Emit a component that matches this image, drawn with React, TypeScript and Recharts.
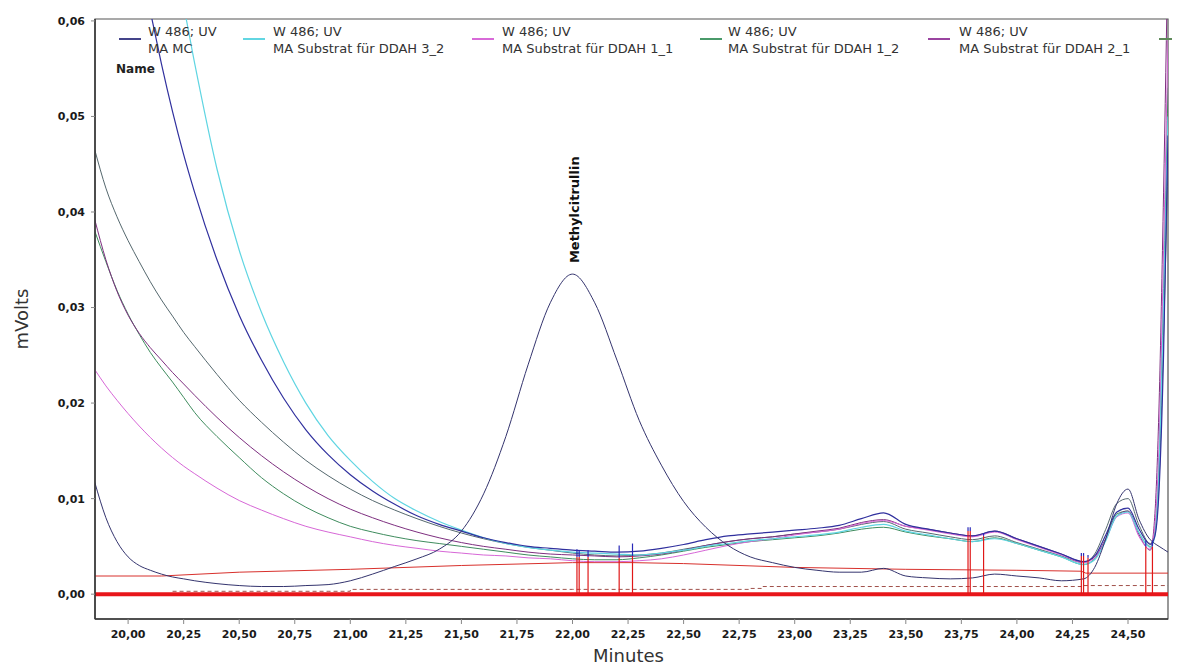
import React from 'react';
import { LineChart, Line, XAxis, YAxis, ReferenceLine, ReferenceArea, ReferenceDot, Legend } from 'recharts';

// ---------- data ----------
const minutes = [
  19.85, 19.9, 19.95, 20.0, 20.05, 20.1, 20.15, 20.2, 20.25, 20.3,
  20.4, 20.5, 20.6, 20.7, 20.8, 20.9, 21.0, 21.1, 21.2, 21.3,
  21.4, 21.5, 21.6, 21.7, 21.8, 21.9, 22.0, 22.1, 22.2, 22.3,
  22.4, 22.5, 22.6, 22.7, 22.8, 22.9, 23.0, 23.1, 23.2, 23.3,
  23.4, 23.5, 23.6, 23.7, 23.8, 23.9, 24.0, 24.1, 24.2, 24.3,
  24.35, 24.4, 24.45, 24.5, 24.55, 24.6, 24.62, 24.64, 24.66, 24.68,
];

const maMC = [
  0.0117, 0.0080, 0.0055, 0.0039, 0.0030, 0.0025, 0.0021, 0.0018, 0.0016, 0.0014,
  0.0011, 0.0009, 0.0008, 0.0008, 0.0009, 0.0010, 0.0014, 0.0021, 0.0029, 0.0037,
  0.0047, 0.0066, 0.0105, 0.0165, 0.0240, 0.0305, 0.0335, 0.0305, 0.0245, 0.0182,
  0.0135, 0.0097, 0.0070, 0.0051, 0.0039, 0.0033, 0.0028, 0.0025, 0.0023, 0.0023,
  0.0027, 0.0019, 0.0017, 0.0016, 0.0017, 0.0021, 0.0019, 0.0017, 0.0014, 0.0016,
  0.0028, 0.0058, 0.0095, 0.0110, 0.0078, 0.0057, 0.0053, 0.0050, 0.0047, 0.0044,
];

const ddah32 = [
  0.140, 0.125, 0.112, 0.100, 0.089, 0.080, 0.072, 0.066, 0.0615, 0.0555,
  0.0445, 0.0360, 0.0295, 0.0243, 0.0200, 0.0166, 0.0140, 0.0118, 0.0100, 0.0087,
  0.0076, 0.0067, 0.0059, 0.0053, 0.0049, 0.0046, 0.0044, 0.0043, 0.0042, 0.0041,
  0.0043, 0.0046, 0.0050, 0.0053, 0.0056, 0.0058, 0.0060, 0.0062, 0.0065, 0.0070,
  0.0073, 0.0066, 0.0062, 0.0058, 0.0055, 0.0058, 0.0053, 0.0046, 0.0039, 0.0031,
  0.0036, 0.0056, 0.0082, 0.0086, 0.0064, 0.0049, 0.0060, 0.0130, 0.0300, 0.0500,
];

const ddah11 = [
  0.0235, 0.0218, 0.0203, 0.0189, 0.0176, 0.0164, 0.0153, 0.0143, 0.0134, 0.0126,
  0.0111, 0.0098, 0.0088, 0.0079, 0.0071, 0.0065, 0.0060, 0.0055, 0.0051, 0.0048,
  0.0045, 0.0043, 0.0041, 0.0040, 0.0038, 0.0037, 0.0035, 0.0034, 0.0034, 0.0035,
  0.0037, 0.0041, 0.0046, 0.0051, 0.0055, 0.0058, 0.0062, 0.0065, 0.0068, 0.0074,
  0.0077, 0.0071, 0.0067, 0.0063, 0.0060, 0.0065, 0.0057, 0.0049, 0.0041, 0.0033,
  0.0038, 0.0057, 0.0081, 0.0085, 0.0060, 0.0047, 0.0070, 0.0160, 0.0360, 0.0580,
];

const ddah12 = [
  0.0380, 0.0348, 0.0318, 0.0293, 0.0272, 0.0253, 0.0237, 0.0222, 0.0206, 0.0190,
  0.0165, 0.0143, 0.0122, 0.0105, 0.0091, 0.0080, 0.0071, 0.0065, 0.0060, 0.0056,
  0.0053, 0.0050, 0.0047, 0.0044, 0.0041, 0.0039, 0.0037, 0.0036, 0.0036, 0.0038,
  0.0041, 0.0045, 0.0049, 0.0052, 0.0055, 0.0057, 0.0059, 0.0061, 0.0064, 0.0068,
  0.0070, 0.0065, 0.0061, 0.0058, 0.0055, 0.0059, 0.0053, 0.0046, 0.0039, 0.0031,
  0.0037, 0.0058, 0.0084, 0.0087, 0.0064, 0.0050, 0.0062, 0.0140, 0.0320, 0.0530,
];

const ddah21 = [
  0.0392, 0.0350, 0.0317, 0.0292, 0.0273, 0.0258, 0.0245, 0.0232, 0.0220, 0.0208,
  0.0185, 0.0164, 0.0145, 0.0128, 0.0113, 0.0100, 0.0089, 0.0080, 0.0072, 0.0065,
  0.0059, 0.0054, 0.0050, 0.0047, 0.0044, 0.0042, 0.0041, 0.0040, 0.0039, 0.0040,
  0.0042, 0.0046, 0.0051, 0.0055, 0.0058, 0.0060, 0.0063, 0.0066, 0.0069, 0.0075,
  0.0078, 0.0071, 0.0068, 0.0064, 0.0061, 0.0066, 0.0058, 0.0050, 0.0042, 0.0034,
  0.0039, 0.0058, 0.0082, 0.0087, 0.0062, 0.0046, 0.0080, 0.0200, 0.0420, 0.0680,
];

const blueTrace = [
  0.110, 0.097, 0.085, 0.075, 0.067, 0.0610, 0.0555, 0.0505, 0.0460, 0.0420,
  0.0350, 0.0292, 0.0245, 0.0205, 0.0172, 0.0146, 0.0125, 0.0108, 0.0094, 0.0082,
  0.0073, 0.0066, 0.0059, 0.0054, 0.0050, 0.0048, 0.0046, 0.0045, 0.0044, 0.0045,
  0.0048, 0.0052, 0.0057, 0.0061, 0.0063, 0.0065, 0.0067, 0.0069, 0.0072, 0.0079,
  0.0085, 0.0073, 0.0068, 0.0064, 0.0061, 0.0066, 0.0058, 0.0050, 0.0042, 0.0034,
  0.0040, 0.0062, 0.0086, 0.0090, 0.0068, 0.0052, 0.0060, 0.0110, 0.0250, 0.0480,
];

const slateTrace = [
  0.0465, 0.0425, 0.0395, 0.0370, 0.0348, 0.0327, 0.0308, 0.0291, 0.0274, 0.0259,
  0.0230, 0.0203, 0.0180, 0.0159, 0.0140, 0.0124, 0.0110, 0.0098, 0.0088, 0.0079,
  0.0071, 0.0064, 0.0058, 0.0053, 0.0049, 0.0046, 0.0043, 0.0041, 0.0040, 0.0041,
  0.0043, 0.0047, 0.0051, 0.0055, 0.0058, 0.0060, 0.0063, 0.0065, 0.0068, 0.0073,
  0.0076, 0.0068, 0.0064, 0.0060, 0.0057, 0.0061, 0.0054, 0.0047, 0.0040, 0.0033,
  0.0042, 0.0068, 0.0095, 0.0100, 0.0072, 0.0053, 0.0062, 0.0120, 0.0270, 0.0450,
];

const baselineMinutes = [19.85, 20.15, 20.5, 21.0, 21.5, 22.0, 22.27, 22.5, 23.0, 23.5, 24.0, 24.29, 24.31, 24.68];
const baselineValues = [0.0019, 0.0019, 0.0023, 0.0026, 0.0030, 0.0033, 0.0033, 0.0032, 0.0028, 0.0026, 0.0025, 0.0024, 0.0022, 0.0022];

const dashedMinutes = [20.2, 20.9, 21.0, 22.0, 22.8, 22.85, 23.8, 24.3, 24.68];
const dashedValues = [0.0003, 0.0003, 0.0005, 0.0005, 0.0006, 0.0008, 0.0008, 0.0009, 0.0009];

const markerMinutes = [22.02, 22.03, 22.07, 22.21, 22.27, 23.78, 23.79, 23.85, 24.29, 24.3, 24.32, 24.58, 24.61];
const markerRedTop = [0.0039, 0.0039, 0.0039, 0.0038, 0.0040, 0.0066, 0.0066, 0.0061, 0.0040, 0.0040, 0.0038, 0.0050, 0.0050];
const markerBlueTop = [0.0047, 0.0046, 0.0046, 0.0051, 0.0053, 0.0070, 0.0070, 0.0064, 0.0043, 0.0043, 0.0041, 0.0056, 0.0056];

const xTicks = [20, 20.25, 20.5, 20.75, 21, 21.25, 21.5, 21.75, 22, 22.25, 22.5, 22.75, 23, 23.25, 23.5, 23.75, 24, 24.25, 24.5];
const yTicks = [0, 0.01, 0.02, 0.03, 0.04, 0.05, 0.06];
const xMinorTicks = Array.from({ length: 97 }, (_, i) => +(19.85 + i * 0.05).toFixed(2));
const yMinorTicks = Array.from({ length: 26 }, (_, i) => +(-0.0025 + i * 0.0025).toFixed(4));

const legendNames = ['MA MC', 'MA Substrat für DDAH 3_2', 'MA Substrat für DDAH 1_1', 'MA Substrat für DDAH 1_2', 'MA Substrat für DDAH 2_1'];
const legendHeader = 'W 486; UV';
const peakName = 'Methylcitrullin';

// ---------- style ----------
const FONT = '"DejaVu Sans", Verdana, sans-serif';
const X_DOMAIN = [19.851, 24.68];
const Y_DOMAIN = [-0.0026, 0.0602];

const traceStyles = [
  { key: 'slate', color: '#55686E', width: 1 },
  { key: 'ddah12', color: '#3F8C5E', width: 1 },
  { key: 'ddah21', color: '#7E2F80', width: 1 },
  { key: 'ddah11', color: '#D767D7', width: 1 },
  { key: 'ddah32', color: '#5FD5E2', width: 1.2 },
  { key: 'blue', color: '#30309E', width: 1.2 },
  { key: 'maMC', color: '#34346E', width: 1 },
];
const legendColors = ['#44448A', '#62D6E2', '#D86AD8', '#4A9A6A', '#9A44A0'];
const legendTextX = [140, 265, 494, 720, 951];
const legendSampleX = [111, 235, 464, 692, 920];

const table = minutes.map((t, i) => ({
  t,
  maMC: maMC[i],
  ddah32: ddah32[i],
  ddah11: ddah11[i],
  ddah12: ddah12[i],
  ddah21: ddah21[i],
  blue: blueTrace[i],
  slate: slateTrace[i],
}));
const baselineData = baselineMinutes.map((t, i) => ({ t, v: baselineValues[i] }));
const dashedData = dashedMinutes.map((t, i) => ({ t, v: dashedValues[i] }));

const fmt = (v: number) => v.toFixed(2).replace('.', ',');

const MinorXTick = (props: any) => (
  <line x1={props.x} x2={props.x} y1={props.y} y2={props.y + 3} stroke="#999" strokeWidth={1} />
);
const MinorYTick = (props: any) => (
  <line x1={props.x - 3} x2={props.x} y1={props.y} y2={props.y} stroke="#999" strokeWidth={1} />
);

const LegendBox = () => (
  <div style={{ position: 'relative', width: 1172, height: 80, fontFamily: FONT, color: '#333' }}>
    {legendNames.map((name, i) => (
      <React.Fragment key={name}>
        <div style={{ position: 'absolute', left: legendSampleX[i], top: 30, width: 22, height: 2, background: legendColors[i] }} />
        <div style={{ position: 'absolute', left: legendTextX[i], top: 15, fontSize: 13, lineHeight: '17px', whiteSpace: 'nowrap' }}>
          <div>{legendHeader}</div>
          <div>{name}</div>
        </div>
      </React.Fragment>
    ))}
    <div style={{ position: 'absolute', left: 1151, top: 30, width: 21, height: 2, background: '#5E8A5A' }} />
    <div style={{ position: 'absolute', left: 108, top: 53, fontSize: 12, fontWeight: 'bold', lineHeight: '16px', color: '#222' }}>Name</div>
  </div>
);

const renderPeakLabel = (props: any) => {
  const vb = props.viewBox || {};
  const cx = (vb.x ?? 0) + (vb.width ?? 0) / 2 + 2;
  const cy = (vb.y ?? 0) - 11;
  return (
    <text x={cx} y={cy} transform={`rotate(-90 ${cx} ${cy})`} textAnchor="start" dominantBaseline="central"
      fontFamily={FONT} fontSize={13} fontWeight="bold" fill="#111">{peakName}</text>
  );
};

const renderYLabel = (props: any) => {
  const vb = props.viewBox || {};
  const cx = 13;
  const cy = (vb.y ?? 0) + (vb.height ?? 0) / 2;
  return (
    <text x={cx} y={cy} transform={`rotate(-90 ${cx} ${cy})`} textAnchor="middle" dominantBaseline="central"
      fontFamily={FONT} fontSize={18} fill="#333">mVolts</text>
  );
};

const renderXLabel = (props: any) => {
  const vb = props.viewBox || {};
  const cx = (vb.x ?? 0) + (vb.width ?? 0) / 2 - 3;
  return (
    <text x={cx} y={647} textAnchor="middle" dominantBaseline="central" fontFamily={FONT} fontSize={18} fill="#333">Minutes</text>
  );
};

export default function App() {
  return (
    <div style={{ width: 1172, height: 656 }}>
      <LineChart width={1172} height={656} data={table} margin={{ top: 11, right: 12, left: 0, bottom: 0 }}>
        <XAxis xAxisId="minor" dataKey="t" type="number" domain={X_DOMAIN} allowDataOverflow ticks={xMinorTicks}
          height={0} tick={<MinorXTick />} tickSize={0} tickMargin={0} tickLine={false} axisLine={false} interval={0} />
        <XAxis xAxisId="main" dataKey="t" type="number" domain={X_DOMAIN} allowDataOverflow ticks={xTicks}
          height={45} tickFormatter={fmt} tickSize={5} tickMargin={6} interval={0}
          axisLine={{ stroke: '#333', strokeWidth: 1.5 }} tickLine={{ stroke: '#888' }}
          tick={{ fontFamily: FONT, fontSize: 11, fontWeight: 'bold', fill: '#1a1a1a' }}
          label={renderXLabel} />
        <YAxis yAxisId="minor" type="number" domain={Y_DOMAIN} allowDataOverflow ticks={yMinorTicks}
          width={0} tick={<MinorYTick />} tickSize={0} tickMargin={0} tickLine={false} axisLine={false} interval={0} />
        <YAxis yAxisId="main" type="number" domain={Y_DOMAIN} allowDataOverflow ticks={yTicks}
          width={87} tickFormatter={fmt} tickSize={4} tickMargin={6} interval={0}
          axisLine={{ stroke: '#333', strokeWidth: 1.5 }} tickLine={{ stroke: '#888' }}
          tick={{ fontFamily: FONT, fontSize: 11, fontWeight: 'bold', fill: '#1a1a1a' }}
          label={renderYLabel} />

        <ReferenceArea xAxisId="main" yAxisId="main" x1={X_DOMAIN[0]} x2={X_DOMAIN[1]} y1={Y_DOMAIN[0]} y2={Y_DOMAIN[1]}
          fill="none" fillOpacity={0} stroke="#555" strokeWidth={1.2} ifOverflow="visible" />

        <ReferenceLine xAxisId="main" yAxisId="main" y={0} stroke="#E8161A" strokeWidth={4} />
        <Line xAxisId="main" yAxisId="main" data={dashedData} dataKey="v" type="stepAfter" stroke="#A0504A"
          strokeWidth={1} strokeDasharray="4 3" dot={false} isAnimationActive={false} />
        <Line xAxisId="main" yAxisId="main" data={baselineData} dataKey="v" type="linear" stroke="#D8302C"
          strokeWidth={1} dot={false} isAnimationActive={false} />

        {traceStyles.map((s) => (
          <Line key={s.key} xAxisId="main" yAxisId="main" dataKey={s.key} type="monotone" stroke={s.color}
            strokeWidth={s.width} dot={false} isAnimationActive={false} />
        ))}

        {markerMinutes.map((m, i) => (
          <ReferenceLine key={`r${i}`} xAxisId="main" yAxisId="main" stroke="#E01818" strokeWidth={1.2}
            segment={[{ x: m, y: 0 }, { x: m, y: markerRedTop[i] }]} />
        ))}
        {markerMinutes.map((m, i) => (
          <ReferenceLine key={`b${i}`} xAxisId="main" yAxisId="main" stroke="#2828B8" strokeWidth={1.2}
            segment={[{ x: m, y: markerRedTop[i] }, { x: m, y: markerBlueTop[i] }]} />
        ))}

        <ReferenceDot xAxisId="main" yAxisId="main" x={22.0} y={0.0335} r={0} fill="none" stroke="none" label={renderPeakLabel} />

        <Legend layout="horizontal" verticalAlign="middle" align="center"
          wrapperStyle={{ top: 0, left: 0, width: 1172, height: 80 }} content={() => <LegendBox />} />
      </LineChart>
    </div>
  );
}
